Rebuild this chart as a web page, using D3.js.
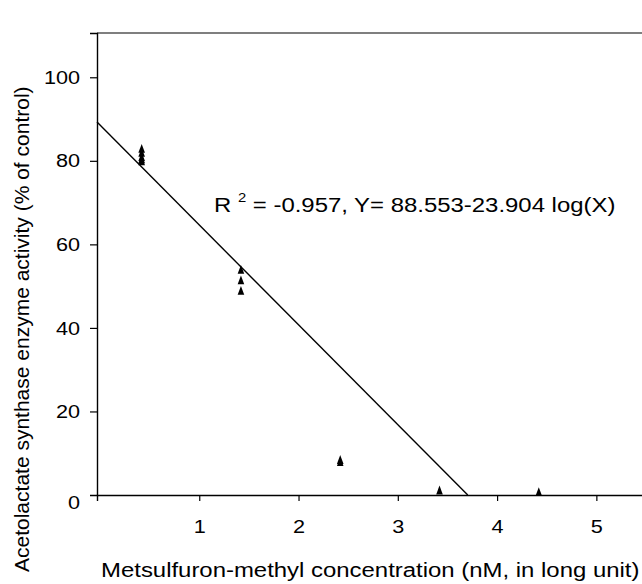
<!DOCTYPE html>
<html>
<head>
<meta charset="utf-8">
<script src="https://cdn.jsdelivr.net/npm/d3@7"></script>
<style>
  body { margin: 0; background: #fff; }
  svg { display: block; }
  text { font-family: "Liberation Sans", Arial, Helvetica, sans-serif; fill: #000; }
</style>
</head>
<body>
<svg id="chart" width="642" height="584"></svg>
<script>
// ---- data ----
const logConc = [0.42, 0.42, 0.42, 0.42, 0.42,
                 1.42, 1.42, 1.42,
                 2.42, 2.42,
                 3.42,
                 4.42];
const activity = [83, 82, 81, 80.5, 80,
                  54, 51.5, 49,
                  8.5, 8,
                  1.2,
                  0.8];
const xTicks = [1, 2, 3, 4, 5];
const yTicks = [0, 20, 40, 60, 80, 100];
const intercept = 88.553;
const slope = -23.904;
const xTitle = "Metsulfuron-methyl concentration (nM, in long unit)";
const yTitle = "Acetolactate synthase enzyme activity (% of control)";

const svg = d3.select("#chart");
const pLeft = 97, pRight = 646, pTop = 33, pBottom = 495;
const stretch = 1.14; // horizontal text stretch seen in the reference

const x = d3.scaleLinear().domain([-0.03, 5.5]).range([pLeft, pRight]);
const y = d3.scaleLinear().domain([0, 110.6]).range([pBottom, pTop]);

// frame: top line
svg.append("line").attr("x1", pLeft).attr("x2", pRight).attr("y1", pTop).attr("y2", pTop)
  .attr("stroke", "#000").attr("stroke-width", 1.2);

// y axis
const yAxis = svg.append("g").attr("transform", `translate(${pLeft},0)`)
  .call(d3.axisLeft(y).tickValues(yTicks).tickSize(7).tickPadding(12).tickFormat(d3.format("d")));
yAxis.select(".domain").attr("stroke", "#000").attr("stroke-width", 1.4);
yAxis.selectAll(".tick line").attr("stroke-width", 1.2).filter(d => d === 0).remove();
yAxis.selectAll(".tick text")
  .attr("font-size", 19).attr("font-family", "Liberation Sans, Arial, sans-serif")
  .attr("x", -17 / stretch)
  .attr("transform", `scale(${stretch},1)`)
  .filter(d => d === 0).attr("dy", "0.7em");

// x axis
const xAxis = svg.append("g").attr("transform", `translate(0,${pBottom})`)
  .call(d3.axisBottom(x).tickValues(xTicks).tickSize(6).tickPadding(19).tickFormat(d3.format("d")));
xAxis.select(".domain").attr("stroke", "#000").attr("stroke-width", 1.4);
xAxis.selectAll(".tick line").attr("stroke-width", 1.2);
xAxis.selectAll(".tick text").attr("font-size", 19).attr("font-family", "Liberation Sans, Arial, sans-serif")
  .attr("transform", `scale(${stretch},1)`);

// regression line: from left edge to where it meets 0
const xEnd = (0 - intercept) / slope;
const x0 = x.domain()[0];
svg.append("line")
  .attr("x1", x(x0)).attr("y1", y(intercept + slope * x0))
  .attr("x2", x(xEnd)).attr("y2", y(0))
  .attr("stroke", "#000").attr("stroke-width", 1.4);

// triangle markers
const tri = {
  draw(ctx, size) {
    const w = 3.3, h = 4.4;
    ctx.moveTo(0, -h);
    ctx.lineTo(w, h);
    ctx.lineTo(-w, h);
    ctx.closePath();
  }
};
svg.append("g").selectAll("path")
  .data(logConc.map((d, i) => [d, activity[i]]))
  .join("path")
  .attr("transform", d => `translate(${x(d[0])},${y(d[1])})`)
  .attr("d", d3.symbol().type(tri).size(30))
  .attr("fill", "#000");

// annotation
const ann = svg.append("text").attr("transform", `translate(214,212) scale(${stretch},1)`).attr("font-size", 21);
ann.append("tspan").text("R ");
ann.append("tspan").attr("font-size", 13).attr("dy", -10).text("2");
ann.append("tspan").attr("dy", 10).text(" = -0.957, Y= 88.553-23.904 log(X)");

// axis titles
svg.append("text").attr("transform", `translate(101,577) scale(${stretch},1)`).attr("font-size", 21).text(xTitle);
svg.append("text").attr("transform", "translate(29,572) rotate(-90)").attr("font-size", 21).text(yTitle);
</script>
</body>
</html>
